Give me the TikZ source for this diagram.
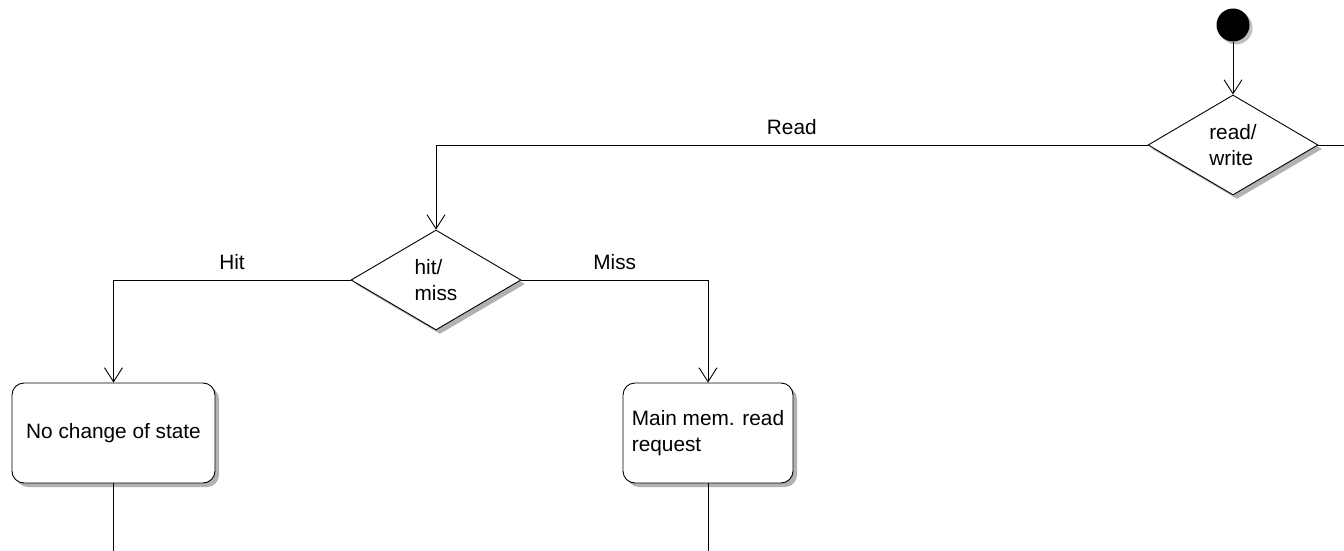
\documentclass[tikz,border=0pt]{standalone}
\usepackage{fontspec}
\setmainfont{Liberation Sans}
\usetikzlibrary{shapes.geometric,arrows.meta,shadows}
\begin{document}
\begin{tikzpicture}[x=1pt,y=-1pt,
  every node/.style={font=\fontsize{20.8}{26}\selectfont},
  shade box/.style={general shadow={shadow xshift=4pt,shadow yshift=-4pt,fill=black!30}},
  decision/.style={diamond,draw,fill=white,line width=0.9pt,minimum width=170pt,minimum height=100pt,inner sep=0pt,align=left,shade box},
  activity/.style={rectangle,rounded corners=12pt,draw,fill=white,line width=0.9pt,minimum height=100pt,inner sep=0pt,align=left,shade box},
  startnode/.style={circle,fill=black,minimum size=33pt,inner sep=0pt,general shadow={shadow xshift=3pt,shadow yshift=-3pt,fill=black!25}},
  flow/.style={line width=0.9pt,-{Straight Barb[length=14pt,width=18pt]}},
  plain/.style={line width=0.9pt},
  guard/.style={anchor=base,yshift=11pt,inner sep=0pt}]
\useasboundingbox (0,0) rectangle (1344,551);

\node[startnode] (start) at (1233,25) {};
\node[decision] (rw) at (1233,145) {read/\\write};
\node[decision] (hm) at (436,280) {hit/\\miss};
\node[activity,minimum width=203pt] (nochange) at (113.5,433) {No change of state};
\node[activity,minimum width=170pt] (memread) at (708,433) {Main mem. read\\request};

\coordinate (rwout) at (1344,145);
\coordinate (ncout) at (113.5,551);
\coordinate (mrout) at (708,551);

\draw[flow] (start) -- (rw);
\draw[flow] (rw.west) -| node[guard,pos=0.25] {Read} (hm.north);
\draw[flow] (hm.west) -| node[guard,pos=0.25] {Hit} (nochange.north);
\draw[flow] (hm.east) -| node[guard,pos=0.25] {Miss} (memread.north);
\draw[plain] (rw.east) -- (rwout);
\draw[plain] (nochange.south) -- (ncout);
\draw[plain] (memread.south) -- (mrout);
\end{tikzpicture}
\end{document}
